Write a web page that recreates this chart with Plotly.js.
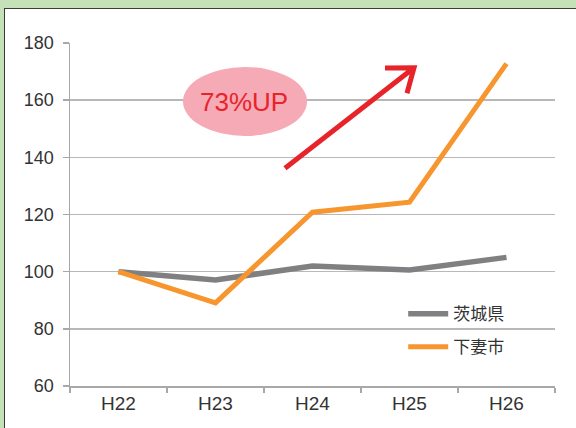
<!DOCTYPE html>
<html>
<head>
<meta charset="utf-8">
<script src="https://cdn.plot.ly/plotly-3.0.1.min.js"></script>
<style>
  html, body { margin: 0; padding: 0; width: 576px; height: 428px; overflow: hidden; background: #c4e1b8; }
  #panel { position: absolute; left: 4px; top: 8px; width: 580px; height: 430px; background: #ffffff;
           border-left: 1.5px solid #3a3a3a; border-top: 1.5px solid #3a3a3a; }
  #chart { position: absolute; left: 0; top: 0; width: 576px; height: 428px; }
</style>
</head>
<body>
<div id="panel"></div>
<div id="chart"></div>
<script>
const categories = ["H22", "H23", "H24", "H25", "H26"];
const seriesNames = ["茨城県", "下妻市"];
const ibaraki = [100, 97.1, 102, 100.6, 105];
const shimotsuma = [100, 89.1, 120.8, 124.3, 172.8];
const yTicks = [60, 80, 100, 120, 140, 160, 180];
const noteText = "73%UP";

const traces = [
  { x: categories, y: ibaraki, name: seriesNames[0], type: "scatter", mode: "lines",
    line: { color: "#808083", width: 5.5 }, legendgroup: "a" },
  { x: categories, y: shimotsuma, name: seriesNames[1], type: "scatter", mode: "lines",
    line: { color: "#f7962e", width: 5 }, legendgroup: "b" }
];

const font = "Liberation Sans, Arial, Helvetica, sans-serif";
const layout = {
  width: 576, height: 428,
  margin: { l: 70, r: 21, t: 43, b: 42 },
  paper_bgcolor: "rgba(0,0,0,0)",
  plot_bgcolor: "#ffffff",
  showlegend: true,
  legend: {
    x: 0.687, y: 0.262, xanchor: "left", yanchor: "top",
    bgcolor: "rgba(255,255,255,0)",
    traceorder: "grouped", tracegroupgap: 8, itemwidth: 40,
    font: { family: "Noto Sans CJK JP, sans-serif", size: 17, color: "#333333" }
  },
  xaxis: {
    type: "category", range: [-0.5, 4.5],
    showgrid: false, zeroline: false,
    showline: true, linecolor: "#a8a8a8", linewidth: 1.5,
    ticks: "outside", tickson: "boundaries", ticklen: 5, tickcolor: "#a8a8a8", tickwidth: 1.5,
    tickfont: { family: font, size: 19, color: "#333333" }
  },
  yaxis: {
    range: [60, 180], tickvals: yTicks,
    showgrid: true, gridcolor: "#b8b8b8", gridwidth: 1.5,
    zeroline: false,
    showline: true, linecolor: "#a8a8a8", linewidth: 1.5,
    ticks: "outside", ticklen: 6, tickcolor: "#a8a8a8", tickwidth: 1.5,
    ticklabelstandoff: 5,
    tickfont: { family: font, size: 18, color: "#333333" }
  },
  shapes: [
    { type: "circle", xref: "paper", yref: "paper",
      x0: 0.233, x1: 0.4887, y0: 0.729, y1: 0.930,
      fillcolor: "#f6aab6", line: { width: 0 }, layer: "above" },
    { type: "path", xref: "paper", yref: "paper",
      path: "M 0.4433 0.635 L 0.7093 0.928 M 0.6495 0.927 L 0.7093 0.928 L 0.6948 0.8535",
      line: { color: "#e8242b", width: 5 }, layer: "above" }
  ],
  annotations: [
    { xref: "paper", yref: "paper", x: 0.3588, y: 0.827, text: noteText, showarrow: false,
      xanchor: "center", yanchor: "middle",
      font: { family: font, size: 26, color: "#e8242b" } }
  ]
};

Plotly.newPlot("chart", traces, layout, { displayModeBar: false, staticPlot: true });
</script>
</body>
</html>
